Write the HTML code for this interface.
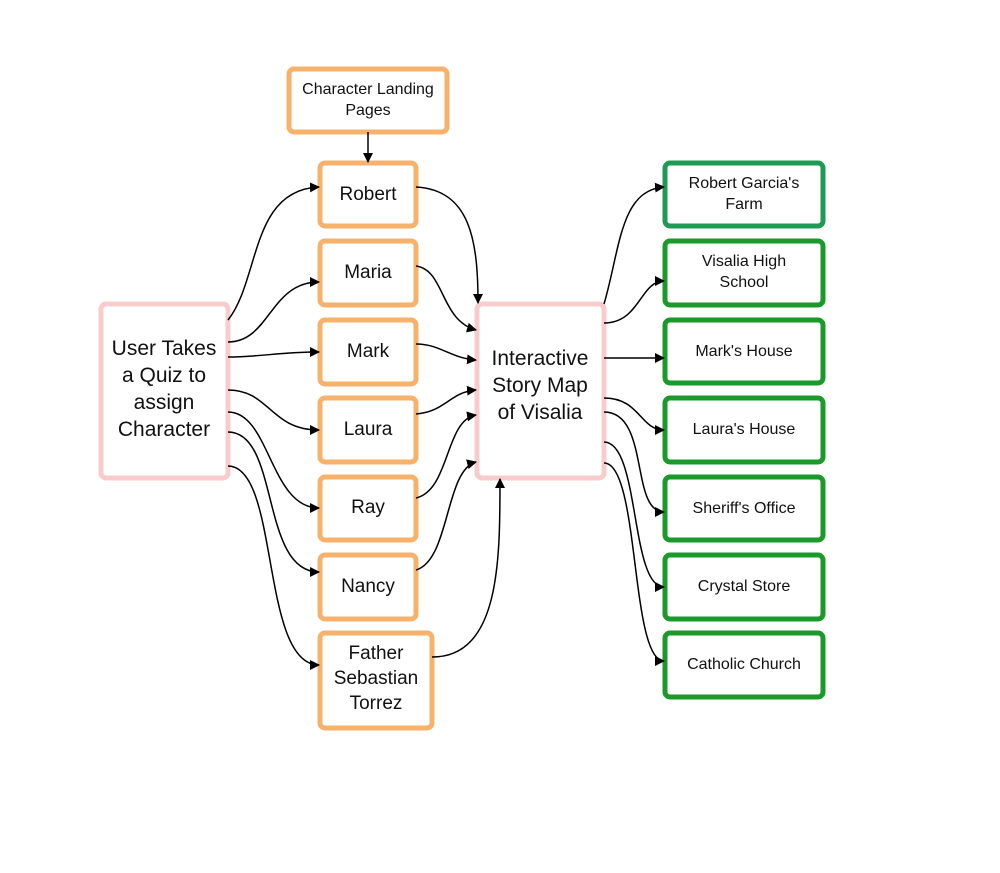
<!DOCTYPE html>
<html><head><style>
body{margin:0;background:#fff;}
text{font-family:"Liberation Sans",sans-serif;fill:#111;text-anchor:middle;}
</style></head><body>
<svg width="1000" height="868" viewBox="0 0 1000 868" xmlns="http://www.w3.org/2000/svg">
<defs><marker id="a" markerWidth="10" markerHeight="10" refX="9" refY="5" orient="auto" markerUnits="userSpaceOnUse"><path d="M0,0 L10,5 L0,10 z" fill="#000"/></marker></defs>
<g fill="#fff" stroke-width="5">
<rect x="289" y="69" width="158" height="63" rx="5" stroke="#f6b26b"/>
<rect x="320" y="163" width="96" height="63" rx="5" stroke="#f6b26b"/>
<rect x="320" y="241" width="96" height="64" rx="5" stroke="#f6b26b"/>
<rect x="320" y="320" width="96" height="64" rx="5" stroke="#f6b26b"/>
<rect x="320" y="398" width="96" height="64" rx="5" stroke="#f6b26b"/>
<rect x="320" y="477" width="96" height="63" rx="5" stroke="#f6b26b"/>
<rect x="320" y="555" width="96" height="64" rx="5" stroke="#f6b26b"/>
<rect x="320" y="633" width="112" height="95" rx="5" stroke="#f6b26b"/>
<rect x="101" y="304" width="127" height="174" rx="5" stroke="#f8cccc"/>
<rect x="477" y="304" width="127" height="174" rx="5" stroke="#f8cccc"/>
<rect x="665" y="163" width="158" height="63" rx="5" stroke="#1f9a55"/>
<rect x="665" y="241" width="158" height="64" rx="5" stroke="#1a9a2a"/>
<rect x="665" y="320" width="158" height="63" rx="5" stroke="#1a9a2a"/>
<rect x="665" y="398" width="158" height="64" rx="5" stroke="#1a9a2a"/>
<rect x="665" y="477" width="158" height="63" rx="5" stroke="#1a9a2a"/>
<rect x="665" y="555" width="158" height="64" rx="5" stroke="#1a9a2a"/>
<rect x="665" y="633" width="158" height="64" rx="5" stroke="#1a9a2a"/>
</g>
<g fill="none" stroke="#000" stroke-width="1.5" marker-end="url(#a)">
<path d="M368,132 L368,162"/>
<path d="M228,320 C260,280 250,190 319,187"/>
<path d="M228,342 C270,342 270,282 319,282"/>
<path d="M228,357 C260,357 280,352 319,352"/>
<path d="M228,390 C270,390 270,430 319,430"/>
<path d="M228,412 C270,412 270,508 319,508"/>
<path d="M228,432 C280,432 260,572 319,572"/>
<path d="M228,466 C280,466 260,665 319,665"/>
<path d="M416,187 C470,190 478,240 478,303"/>
<path d="M416,266 C445,270 440,320 476,330"/>
<path d="M416,344 C440,344 450,358 476,360"/>
<path d="M416,414 C445,412 450,392 476,390"/>
<path d="M416,498 C450,490 445,420 476,415"/>
<path d="M416,570 C450,560 445,470 476,462"/>
<path d="M432,657 C500,657 500,560 500,479"/>
<path d="M604,304 C620,250 620,190 664,187"/>
<path d="M604,323 C640,323 640,281 664,281"/>
<path d="M604,358 L664,358"/>
<path d="M604,398 C640,398 640,430 664,430"/>
<path d="M604,412 C650,412 630,512 664,512"/>
<path d="M604,442 C640,442 630,587 664,587"/>
<path d="M604,463 C640,463 630,661 664,661"/>
</g>
<g font-size="16">
<text x="368" y="94">Character Landing</text><text x="368" y="115">Pages</text>
<text x="744" y="188">Robert Garcia's</text><text x="744" y="209">Farm</text>
<text x="744" y="266">Visalia High</text><text x="744" y="287">School</text>
<text x="744" y="356">Mark's House</text>
<text x="744" y="434">Laura's House</text>
<text x="744" y="513">Sheriff's Office</text>
<text x="744" y="591">Crystal Store</text>
<text x="744" y="669">Catholic Church</text>
</g>
<g font-size="19">
<text x="368" y="200">Robert</text>
<text x="368" y="278">Maria</text>
<text x="368" y="357">Mark</text>
<text x="368" y="435">Laura</text>
<text x="368" y="513">Ray</text>
<text x="368" y="592">Nancy</text>
<text x="376" y="659">Father</text><text x="376" y="684">Sebastian</text><text x="376" y="709">Torrez</text>
</g>
<g font-size="21">
<text x="164" y="355">User Takes</text><text x="164" y="382">a Quiz to</text><text x="164" y="409">assign</text><text x="164" y="436">Character</text>
<text x="540" y="365">Interactive</text><text x="540" y="392">Story Map</text><text x="540" y="419">of Visalia</text>
</g>
</svg>
</body></html>
